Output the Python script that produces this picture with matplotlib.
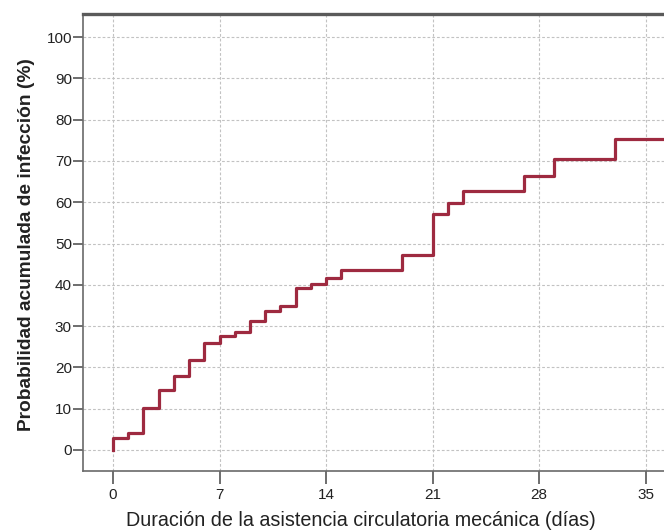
import matplotlib
matplotlib.use("Agg")
import matplotlib.pyplot as plt

# Curva acumulada de infección (escalones)
dias = [0, 0, 1, 2, 3, 4, 5, 6, 7, 8, 9, 10, 11, 12, 13, 14, 15, 19, 21, 22, 23, 27, 29, 33, 37]
prob = [0, 2.8, 4.2, 10.2, 14.4, 17.8, 21.7, 25.8, 27.7, 28.5, 31.2, 33.6, 34.8, 39.3, 40.3, 41.6,
        43.7, 47.1, 57.1, 59.8, 62.7, 66.3, 70.5, 75.4, 75.4]

xticks = [0, 7, 14, 21, 28, 35]
yticks = [0, 10, 20, 30, 40, 50, 60, 70, 80, 90, 100]

plt.rcParams['font.family'] = ['Liberation Sans', 'DejaVu Sans']

fig = plt.figure(figsize=(6.64, 5.32), dpi=100)
ax = fig.add_axes([0.125, 0.1147, 0.875, 0.859])

ax.plot(dias, prob, drawstyle="steps-post", color="#9e2a40", lw=2.3, zorder=3)

ax.set_xlim(-1.97, 36.2)
ax.set_ylim(-5.1, 105.6)
ax.set_xticks(xticks)
ax.set_yticks(yticks)

ax.grid(True, color="#c2c2c2", linestyle=(0, (2.5, 1.8)), lw=0.8)
ax.set_axisbelow(True)

ax.spines["right"].set_visible(False)
ax.spines["top"].set_color("#5a5a5a")
ax.spines["top"].set_linewidth(2.4)
for lado in ("left", "bottom"):
    ax.spines[lado].set_color("#6a6a6a")
    ax.spines[lado].set_linewidth(1.2)

ax.tick_params(axis="both", direction="out", color="#555555", width=1.2,
               labelsize=11, labelcolor="#222222")
ax.tick_params(axis="y", length=7, pad=1)
ax.tick_params(axis="x", length=9, pad=3)

ax.set_xlabel("Duración de la asistencia circulatoria mecánica (días)", fontsize=14.2, color="#222222")
ax.xaxis.set_label_coords(0.479, -0.088)
ax.set_ylabel("Probabilidad acumulada de infección (%)", fontsize=13.8, fontweight="bold", color="#222222")
ax.yaxis.set_label_coords(-0.083, 0.495)

fig.savefig("out.png", dpi=100)
